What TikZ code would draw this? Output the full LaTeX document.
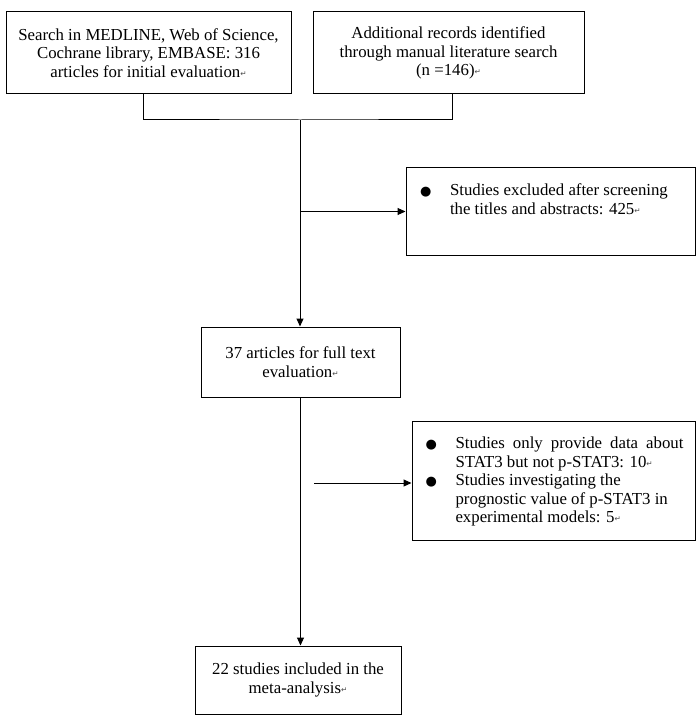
\documentclass[tikz,border=0pt]{standalone}
\usepackage{fontspec}
\setmainfont{Liberation Serif}
\newfontfamily\symfont{DejaVu Sans}
\usetikzlibrary{arrows.meta}
\newcommand\ret{{\symfont\fontsize{7.5}{7.5}\selectfont\color{black!70}\raisebox{1pt}{↵}}}
\newcommand\bul{{\symfont\fontsize{13}{13}\selectfont ●}}
\begin{document}
\begin{tikzpicture}[x=1pt,y=-1pt,
  box/.style={draw, line width=1pt, inner sep=0pt, align=center, font=\fontsize{16.8}{18.5}\selectfont},
  exbox/.style={draw, line width=1pt, inner sep=0pt, font=\fontsize{16.8}{18.5}\selectfont},
  conn/.style={line width=1pt},
  arr/.style={conn, -{Triangle[length=8pt,width=7pt]}}]
\useasboundingbox[fill=white] (0,0) rectangle (700,719);
\node[box, minimum width=285pt, minimum height=82pt] (s1) at (148.5,53)
  {Search in MEDLINE, Web of Science,\\Cochrane library, EMBASE: 316\\articles for initial evaluation\ret};
\node[box, minimum width=271pt, minimum height=82pt] (s2) at (448.5,53)
  {Additional records identified\\through manual literature search\\(n =146)\ret};
\node[box, minimum width=199pt, minimum height=70pt] (f) at (300.5,362)
  {37 articles for full text\\evaluation\ret};
\node[box, minimum width=206pt, minimum height=68pt] (m) at (298,680)
  {22 studies included in the\\meta-analysis\ret};
\node[exbox] (e1) at (550.5,211.5)
  {\hspace*{14pt}\parbox[c][87pt][t]{275pt}{\vspace*{16pt}\noindent\makebox[30pt][l]{\bul}Studies excluded after screening\\
   \hspace*{30pt}the titles and abstracts: 425\ret}};
\node[exbox] (e2) at (553.5,480.5)
  {\hspace*{13.5pt}\parbox[c][119pt][t]{269.5pt}{\vspace*{16pt}\noindent\makebox[30pt][l]{\bul}\makebox[228pt][s]{Studies only provide data about}\\
   \hspace*{30pt}STAT3 but not p-STAT3: 10\ret\\
   \makebox[30pt][l]{\bul}Studies investigating the\\
   \hspace*{30pt}prognostic value of p-STAT3 in\\
   \hspace*{30pt}experimental models: 5\ret}};
\coordinate (j) at (300,120);
\coordinate (g) at (314,483);
\draw[conn] ([xshift=-5.5pt]s1.south) |- (j) -| ([xshift=3.5pt]s2.south);
\draw[arr] (j) -- (j |- f.north);
\draw[arr] (j |- e1.west) -- (e1.west);
\draw[arr] (f.south) -- (f.south |- m.north);
\draw[arr] (g) -- (g -| e2.west);
\end{tikzpicture}
\end{document}
